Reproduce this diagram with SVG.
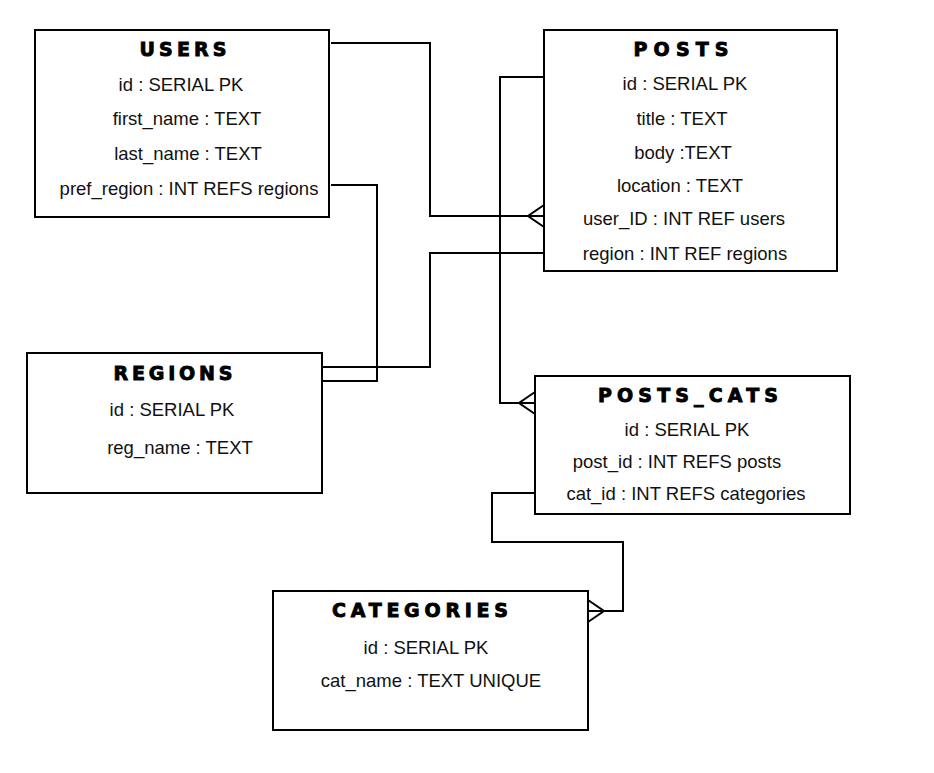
<svg xmlns="http://www.w3.org/2000/svg" width="934" height="773" viewBox="0 0 934 773">
<defs>
<style>
.box{fill:#fff;stroke:#000;stroke-width:2}
.title{font-family:"DejaVu Sans",sans-serif;font-weight:bold;font-size:19px;text-anchor:middle;fill:#000;stroke:#000;stroke-width:0.9}
.f{font-family:"Liberation Sans",Arial,sans-serif;font-size:18.5px;text-anchor:middle;fill:#111}
.conn{fill:none;stroke:#000;stroke-width:2}
</style>
<marker id="crow" markerUnits="userSpaceOnUse" markerWidth="18" markerHeight="26" refX="16" refY="12" orient="auto" viewBox="0 0 18 26">
<path d="M16,1 L0,12 L16,23 M0,12 H16" fill="none" stroke="#000" stroke-width="2"/>
</marker>
</defs>
<rect width="934" height="773" fill="#fff"/>
<g id="connectors">
<path class="conn" d="M331,43 H430 V216 H544" marker-end="url(#crow)"/>
<path class="conn" d="M331,185 H377 V381 H322"/>
<path class="conn" d="M544,253 H430 V367 H322"/>
<path class="conn" d="M544,77 H500 V403 H535" marker-end="url(#crow)"/>
<path class="conn" d="M535,493 H492 V542 H623 V611 H588" marker-end="url(#crow)"/>
</g>
<g id="users">
<rect class="box" x="35" y="30" width="294" height="187"/>
<text class="title" x="183" y="56" textLength="87" lengthAdjust="spacing">USERS</text>
<text class="f" x="181" y="91">id : SERIAL PK</text>
<text class="f" x="187" y="125">first_name : TEXT</text>
<text class="f" x="188" y="160">last_name : TEXT</text>
<text class="f" x="189" y="195">pref_region : INT REFS regions</text>
</g>
<g id="posts">
<rect class="box" x="544" y="30" width="293" height="241"/>
<text class="title" x="681" y="56" textLength="95" lengthAdjust="spacing">POSTS</text>
<text class="f" x="685" y="90">id : SERIAL PK</text>
<text class="f" x="682" y="125">title : TEXT</text>
<text class="f" x="683" y="159">body :TEXT</text>
<text class="f" x="680" y="192">location : TEXT</text>
<text class="f" x="684" y="225">user_ID : INT REF users</text>
<text class="f" x="685" y="260">region : INT REF regions</text>
</g>
<g id="regions">
<rect class="box" x="27" y="353" width="295" height="140"/>
<text class="title" x="173" y="380" textLength="119" lengthAdjust="spacing">REGIONS</text>
<text class="f" x="172" y="416">id : SERIAL PK</text>
<text class="f" x="180" y="454">reg_name : TEXT</text>
</g>
<g id="posts_cats">
<rect class="box" x="535" y="376" width="315" height="138"/>
<text class="title" x="688" y="402" textLength="180" lengthAdjust="spacing">POSTS_CATS</text>
<text class="f" x="687" y="436">id : SERIAL PK</text>
<text class="f" x="677" y="468">post_id : INT REFS posts</text>
<text class="f" x="686" y="500">cat_id : INT REFS categories</text>
</g>
<g id="categories">
<rect class="box" x="273" y="591" width="315" height="139"/>
<text class="title" x="420" y="617" textLength="176" lengthAdjust="spacing">CATEGORIES</text>
<text class="f" x="426" y="654">id : SERIAL PK</text>
<text class="f" x="431" y="687">cat_name : TEXT UNIQUE</text>
</g>
</svg>
